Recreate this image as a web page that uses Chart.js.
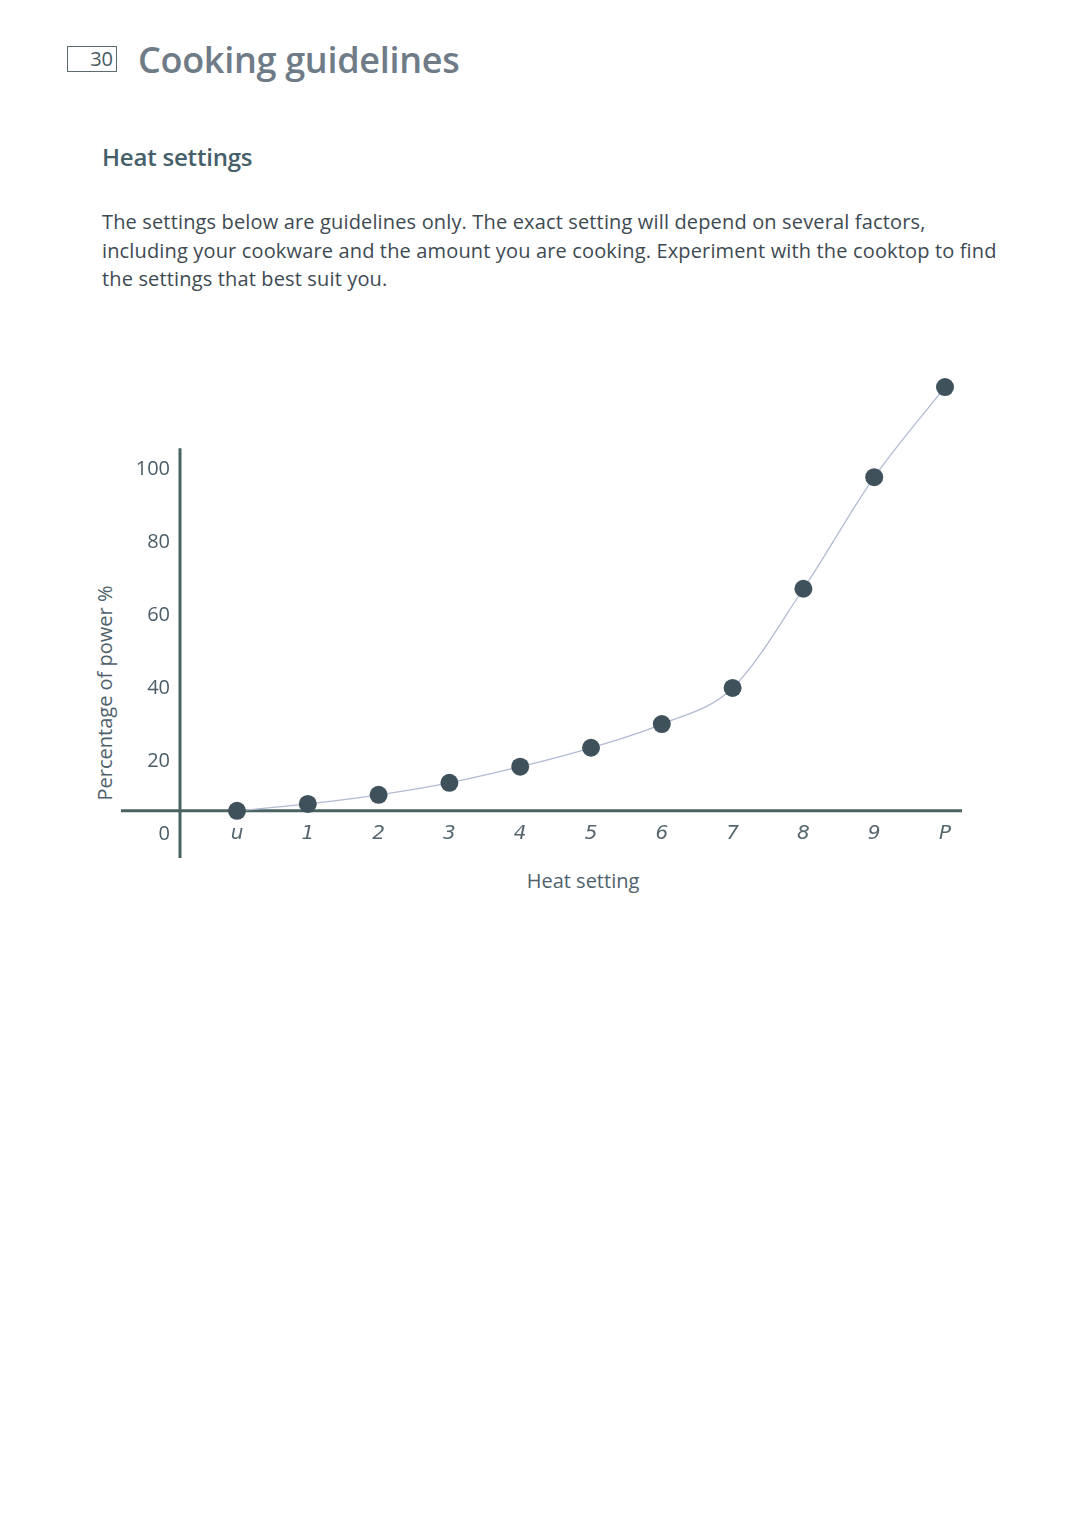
<!DOCTYPE html>
<html>
<head>
<meta charset="utf-8">
<script src="https://cdn.jsdelivr.net/npm/chart.js@4"></script>
<style>
  body { margin: 0; width: 1080px; height: 1532px; background: #fff; position: relative; font-family: "Open Sans", "Noto Sans", sans-serif; }
  .pagebox { position: absolute; left: 67px; top: 46px; width: 50px; height: 26px; border: 1px solid #5b6b70; box-sizing: border-box; }
  .pagenum { position: absolute; right: 3px; top: -2px; font-size: 20px; color: #4a5a62; }
  h1 { position: absolute; left: 138px; top: 35px; margin: 0; font-size: 36px; font-weight: 600; color: #6f7b87; letter-spacing: -0.3px; }
  h2 { position: absolute; left: 102px; top: 140px; margin: 0; font-size: 24px; font-weight: 600; color: #45606a; letter-spacing: -0.2px; }
  .intro { position: absolute; left: 102px; top: 208px; font-size: 20px; line-height: 28.7px; color: #3e4a52; white-space: nowrap; letter-spacing: 0.15px; }
  .ytitle { position: absolute; left: 104px; top: 693px; transform: translate(-50%, -50%) rotate(-90deg); font-size: 20px; color: #4f626c; white-space: nowrap; }
  .xtitle { position: absolute; left: 583px; top: 880px; transform: translate(-50%, -50%); font-size: 20px; color: #4f626c; white-space: nowrap; }
  #wrap { position: absolute; left: 0; top: 340px; width: 1080px; height: 560px; }
</style>
</head>
<body>
<div class="pagebox"><span class="pagenum">30</span></div>
<h1>Cooking guidelines</h1>
<h2>Heat settings</h2>
<div class="intro">The settings below are guidelines only. The exact setting will depend on several factors,<br>including your cookware and the amount you are cooking. Experiment with the cooktop to find<br>the settings that best suit you.</div>
<div class="ytitle">Percentage of power %</div>
<div class="xtitle">Heat setting</div>
<div id="wrap"><canvas id="chart"></canvas></div>
<script>
const settingLabels = ["u", "1", "2", "3", "4", "5", "6", "7", "8", "9", "P"];
const powerValues = [6.3, 8.2, 10.7, 14, 18.4, 23.6, 30.1, 40, 67.2, 97.8, 122.5];
const yTickValues = [0, 20, 40, 60, 80, 100];

const axisColor = "#4a6262";

// axis lines: vertical one at the left edge, horizontal one through the first point
const axisLines = {
  id: "axisLines",
  beforeDatasetsDraw(chart) {
    const { ctx, chartArea, scales } = chart;
    const yBase = scales.y.getPixelForValue(powerValues[0]);
    ctx.save();
    ctx.strokeStyle = axisColor;
    ctx.lineWidth = 3;
    ctx.beginPath();
    ctx.moveTo(chartArea.left, scales.y.getPixelForValue(105.7));
    ctx.lineTo(chartArea.left, scales.y.getPixelForValue(-6.6));
    ctx.moveTo(chartArea.left - 59, yBase);
    ctx.lineTo(chartArea.right, yBase);
    ctx.stroke();
    ctx.restore();
  },
};

new Chart(document.getElementById("chart"), {
  type: "line",
  data: {
    datasets: [
      {
        data: powerValues.map((v, i) => ({ x: i, y: v })),
        borderColor: "#b3bbd3",
        borderWidth: 1.3,
        tension: 0.4,
        cubicInterpolationMode: "monotone",
        pointRadius: 9,
        pointHoverRadius: 9,
        pointBackgroundColor: "#3f525b",
        pointBorderWidth: 0,
        clip: false,
      },
    ],
  },
  options: {
    responsive: true,
    maintainAspectRatio: false,
    animation: false,
    layout: { padding: { left: 0, right: 118, top: 27, bottom: 37 } },
    plugins: { legend: { display: false }, tooltip: { enabled: false } },
    scales: {
      x: {
        type: "linear",
        position: { y: powerValues[0] },
        min: -0.805,
        max: 10.24,
        bounds: "ticks",
        border: { display: false },
        grid: { display: false, drawTicks: false },
        afterBuildTicks: (scale) => {
          scale.ticks = settingLabels.map((_, i) => ({ value: i }));
        },
        ticks: {
          padding: 11,
          color: "#56666f",
          font: { family: "DejaVu Sans", size: 20, weight: 200, style: "italic" },
          callback: (v) => settingLabels[v] ?? "",
        },
      },
      y: {
        min: -8,
        max: 128,
        border: { display: false },
        grid: { display: false, drawTicks: false },
        afterFit: (scale) => { scale.width = 180; },
        afterBuildTicks: (scale) => {
          scale.ticks = yTickValues.map((v) => ({ value: v }));
        },
        ticks: {
          padding: 10,
          color: "#4c5d68",
          font: { family: "Open Sans", size: 20 },
        },
      },
    },
  },
  plugins: [axisLines],
});
</script>
</body>
</html>
